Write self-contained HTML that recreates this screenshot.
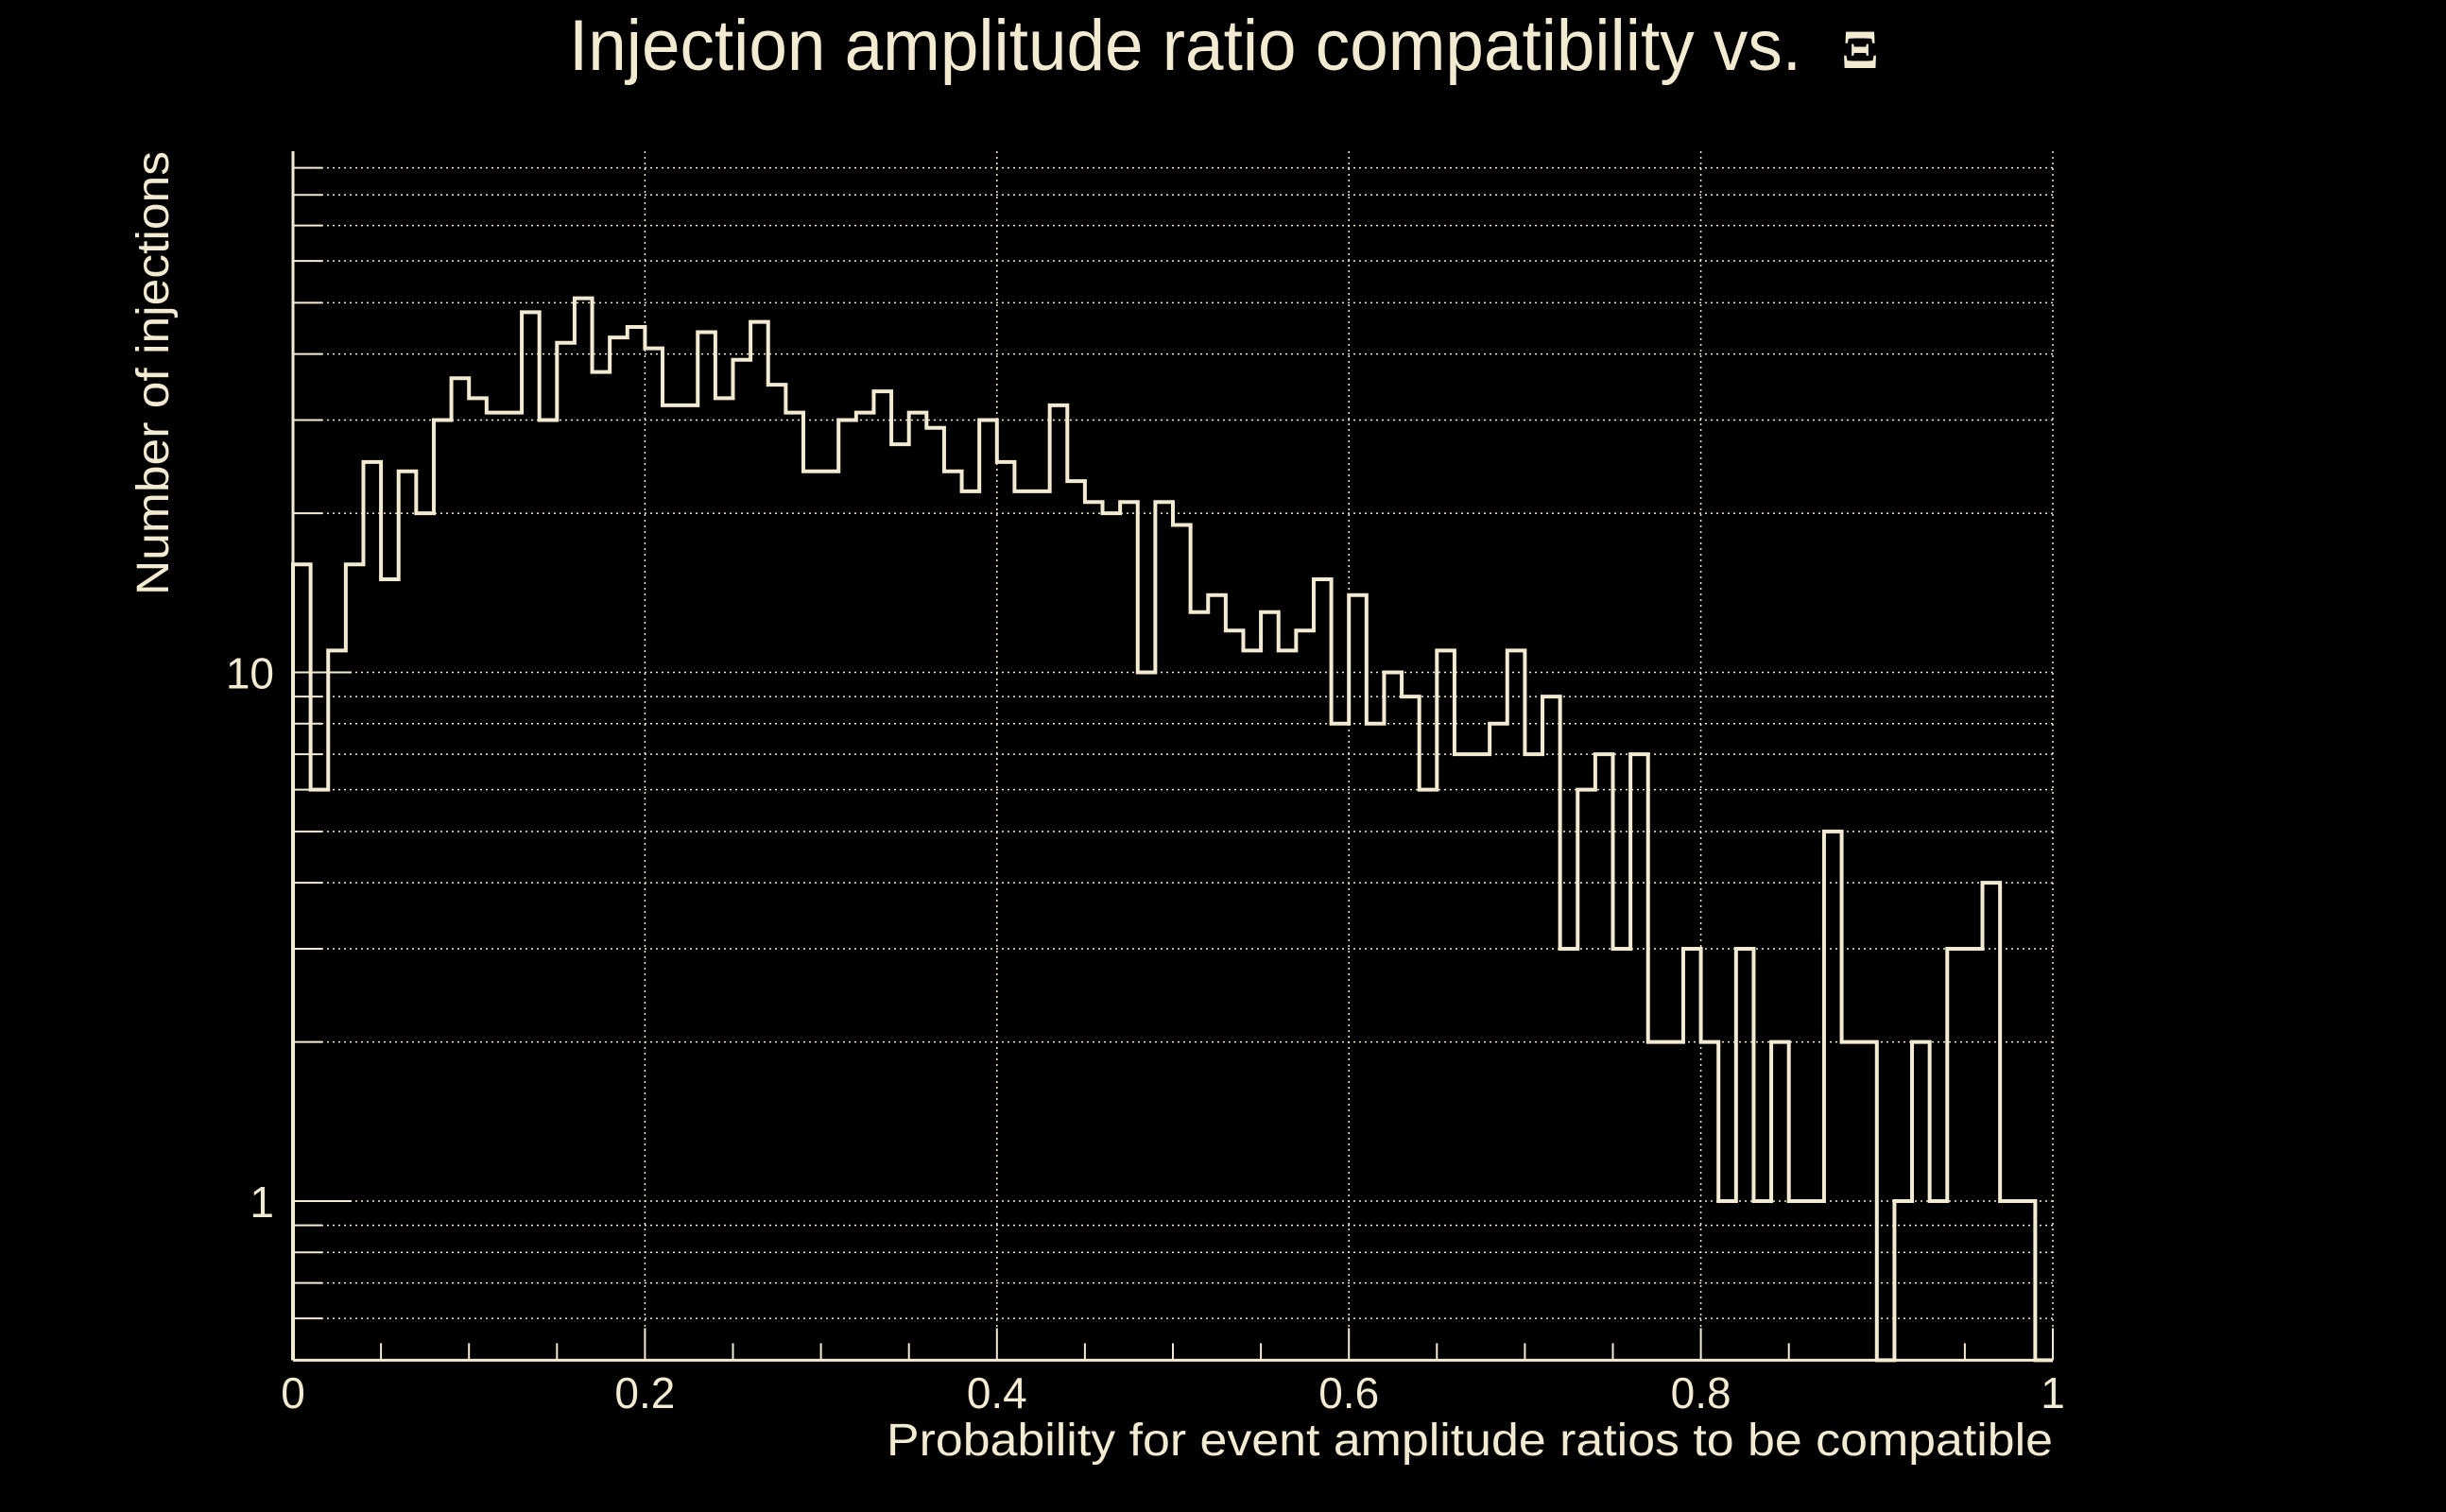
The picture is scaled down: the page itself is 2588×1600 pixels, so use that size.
<!DOCTYPE html>
<html><head><meta charset="utf-8"><style>
html,body{margin:0;padding:0;background:#000;}
svg{display:block;}
text{font-family:"Liberation Sans",sans-serif;fill:#f3ead2;}
</style></head>
<body>
<svg id="chart" width="2588" height="1600" viewBox="0 0 2588 1600" xmlns="http://www.w3.org/2000/svg">
<rect x="0" y="0" width="2588" height="1600" fill="#000"/>
<g id="grid"></g>
<g id="axes"></g>
<path id="hist" fill="none" stroke="#f3ead2" stroke-width="4" stroke-linejoin="miter"/>
<text x="1254" y="74" font-size="76" text-anchor="middle" textLength="1304" lengthAdjust="spacingAndGlyphs">Injection amplitude ratio compatibility vs.</text>
<text x="1968" y="72" font-size="58" font-weight="bold" text-anchor="middle" style="font-family:'Liberation Serif',serif">Ξ</text>
<text transform="translate(178,395) rotate(-90)" font-size="48" text-anchor="middle" textLength="470" lengthAdjust="spacingAndGlyphs">Number of injections</text>
<text x="2172" y="1540" font-size="48" text-anchor="end" textLength="1234" lengthAdjust="spacingAndGlyphs">Probability for event amplitude ratios to be compatible</text>
</svg>
<script>
const binEdges0 = 0, binWidth = 0.01;
const counts = [16,6,11,16,25,15,24,20,30,36,33,31,31,48,30,42,51,37,43,45,41,32,32,44,33,39,46,35,31,24,24,30,31,34,27,31,29,24,22,30,25,22,22,32,23,21,20,21,10,21,19,13,14,12,11,13,11,12,15,8,14,8,10,9,6,11,7,7,8,11,7,9,3,6,7,3,7,2,2,3,2,1,3,1,2,1,1,5,2,2,0,1,2,1,3,3,4,1,1,0];
const xTickValues = [0,0.2,0.4,0.6,0.8,1];
const xTickLabels = ["0","0.2","0.4","0.6","0.8","1"];
const yTickValues = [1,10];
const yTickLabels = ["1","10"];
const yMin = 0.5, yMax = 96.8;

const X0 = 310, X1 = 2172, YBOT = 1439.4, DEC = 559.5, Y1 = 1271;
function xs(v){ return X0 + (X1 - X0) * v; }
function ys(v){ if (v < yMin) v = yMin; return Y1 - DEC * Math.log10(v); }
const NS = "http://www.w3.org/2000/svg";
const grid = document.getElementById('grid');
const axes = document.getElementById('axes');
const C = "#f3ead2";
function line(parent, x1,y1,x2,y2, w, dash){
  const l = document.createElementNS(NS,'line');
  l.setAttribute('x1',x1); l.setAttribute('y1',y1); l.setAttribute('x2',x2); l.setAttribute('y2',y2);
  l.setAttribute('stroke',C); l.setAttribute('stroke-width',w);
  if (dash) l.setAttribute('stroke-dasharray',dash);
  parent.appendChild(l); return l;
}
const minorVals = [];
[0.1,1,10].forEach(d=>{ for(let k=1;k<10;k++){ const v=k*d; if(v>=yMin && v<=yMax) minorVals.push(v);} });
minorVals.forEach(v=>{
  const y = ys(v);
  const g = line(grid, X0, y, X1, y, 1.5, "2 4");
  
  
  const major = yTickValues.includes(v);
  const t = line(axes, X0, y, X0 + (major?62:31), y, 2);
  
  
});
yTickValues.forEach((v,i)=>{
  const tx = document.createElementNS(NS,'text');
  tx.setAttribute('x', X0 - 20); tx.setAttribute('y', ys(v) + 17);
  tx.setAttribute('font-size','46'); tx.setAttribute('text-anchor','end');
  tx.textContent = yTickLabels[i];
  
  
  axes.appendChild(tx);
});
xTickValues.forEach((v,i)=>{
  if (v > 0) {
    const g = line(grid, xs(v), 160, xs(v), YBOT, 1.5, "2 4");
    
    
  }
  const t = line(axes, xs(v), YBOT, xs(v), YBOT - 34, 2);
  
  
  const tx = document.createElementNS(NS,'text');
  tx.setAttribute('x', xs(v)); tx.setAttribute('y', 1490);
  tx.setAttribute('font-size','46'); tx.setAttribute('text-anchor','middle');
  tx.textContent = xTickLabels[i];
  
  
  axes.appendChild(tx);
});
for (let k=1;k<20;k++){
  if (k%4===0) continue;
  const t = line(axes, xs(k*0.05), YBOT, xs(k*0.05), YBOT-18, 2);
  
  
}
const la = line(axes, X0, 160, X0, YBOT, 3);


const ba = line(axes, X0, YBOT, X1, YBOT, 3);


let d = "M" + xs(binEdges0) + "," + YBOT;
counts.forEach((c,i)=>{
  const xa = xs(binEdges0 + i*binWidth), xb = xs(binEdges0 + (i+1)*binWidth);
  const y = ys(c);
  d += " L" + xa + "," + y + " L" + xb + "," + y;
});
document.getElementById('hist').setAttribute('d', d);
</script>
</body></html>
